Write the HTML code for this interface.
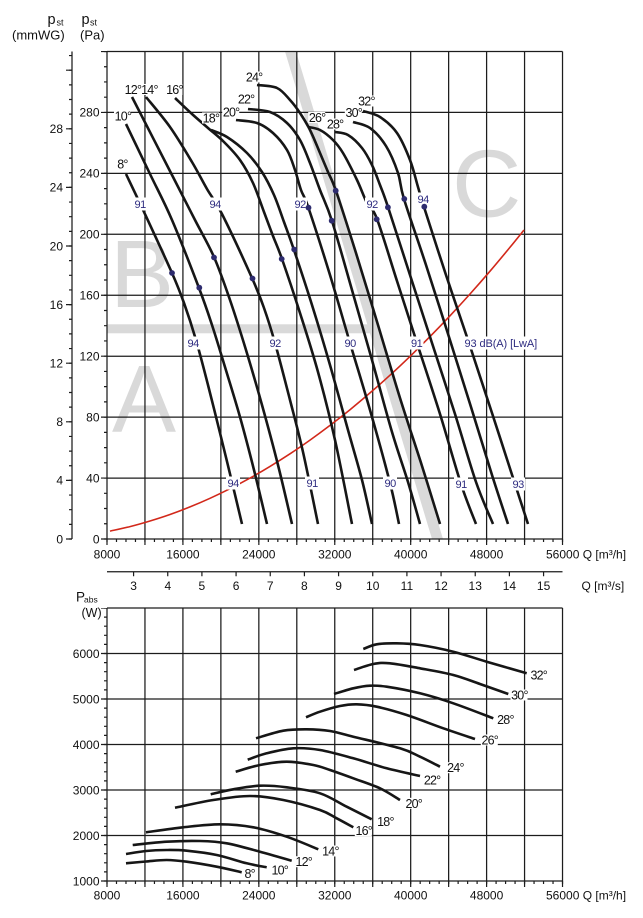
<!DOCTYPE html>
<html><head><meta charset="utf-8"><style>
html,body{margin:0;padding:0;background:#fff}
svg{display:block}
text{font-family:"Liberation Sans",Arial,sans-serif}
.t{font-size:12px;fill:#111}
.d{font-size:12.5px;fill:#111;letter-spacing:-0.8px}
.b{font-size:11px;fill:#2e2c80;letter-spacing:-0.4px}
</style></head><body>
<svg width="643" height="918" viewBox="0 0 643 918" xmlns="http://www.w3.org/2000/svg">
<rect width="643" height="918" fill="#fff"/>

<!-- grey zones -->
<g fill="#d9d9d9">
<text x="110" y="307" font-size="96" style="font-family:'Liberation Sans',sans-serif" fill="#d9d9d9">B</text>
<text x="112" y="432" font-size="96" style="font-family:'Liberation Sans',sans-serif" fill="#d9d9d9">A</text>
<text x="452" y="216.5" font-size="96" style="font-family:'Liberation Sans',sans-serif" fill="#d9d9d9">C</text>
<rect x="107" y="324.3" width="266" height="9"/>
<polygon points="285,51.5 296,51.5 443,539 432,539"/>
</g>

<!-- top grid -->
<g stroke="#1c1c1c" stroke-width="1.25" fill="none">
<path d="M107 51.5V539M144.96 51.5V539M182.92 51.5V539M220.88 51.5V539M258.84 51.5V539M296.8 51.5V539M334.76 51.5V539M372.72 51.5V539M410.68 51.5V539M448.64 51.5V539M486.6 51.5V539M524.56 51.5V539M562.52 51.5V539"/>
<path d="M107 51.5H562.52M107 112.4H562.52M107 173.4H562.52M107 234.3H562.52M107 295.2H562.52M107 356.2H562.52M107 417.1H562.52M107 478.1H562.52M107 539H562.52"/>
<path d="M72 51.5V539"/>
<path d="M107 571.7H562.52"/>
<path d="M107 608V881M144.96 608V881M182.92 608V881M220.88 608V881M258.84 608V881M296.8 608V881M334.76 608V881M372.72 608V881M410.68 608V881M448.64 608V881M486.6 608V881M524.56 608V881M562.52 608V881"/>
<path d="M107 608H562.52M107 653.5H562.52M107 699H562.52M107 744.5H562.52M107 790H562.52M107 835.5H562.52M107 881H562.52"/>
</g>

<!-- ticks -->
<g stroke="#1c1c1c" fill="none">
<line x1="106.4" y1="540.5" x2="563.2" y2="540.5" stroke-width="3" stroke-dasharray="1.2 8.29"/>
<line x1="106.4" y1="542" x2="563.2" y2="542" stroke-width="6" stroke-dasharray="1.2 36.76"/>
<line x1="106.4" y1="882.5" x2="563.2" y2="882.5" stroke-width="3" stroke-dasharray="1.2 8.29"/>
<line x1="106.4" y1="884" x2="563.2" y2="884" stroke-width="6" stroke-dasharray="1.2 36.76"/>
<line x1="132.98" y1="574" x2="545" y2="574" stroke-width="4.5" stroke-dasharray="1.2 32.966"/>
<line x1="105.5" y1="539.6" x2="105.5" y2="51" stroke-width="3" stroke-dasharray="1.2 14.035"/>
<line x1="104" y1="539.6" x2="104" y2="51" stroke-width="6" stroke-dasharray="1.2 59.74"/>
<line x1="70.5" y1="539.6" x2="70.5" y2="51" stroke-width="3" stroke-dasharray="1.2 13.45"/>
<line x1="69" y1="539.6" x2="69" y2="51" stroke-width="6" stroke-dasharray="1.2 57.4"/>
<line x1="105.5" y1="881.6" x2="105.5" y2="608" stroke-width="3" stroke-dasharray="1.2 7.9"/>
<line x1="104" y1="881.6" x2="104" y2="608" stroke-width="6" stroke-dasharray="1.2 44.3"/>
</g>

<!-- red system curve -->
<g fill="none" stroke="#d2281a" stroke-width="1.6">
<polyline class="s" points="110,531.1 130,526.6 150,521 170,514.5 190,506.9 210,498.3 230,488.7 250,478.1 270,466.4 290,453.8 310,440.1 330,425.4 350,409.7 370,392.9 390,375.2 410,356.4 430,336.6 450,315.8 470,294 490,271.2 510,247.3 524,230"/>
</g>

<!-- top fan curves -->
<g fill="none" stroke="#161616" stroke-width="2.6" stroke-linejoin="round">
<polyline class="s" points="126,174 144,212 172,273 184,303 196,340 208,385 220,433 231,478 242,524"/>
<polyline class="s" points="126,124 150,174 172,220 199,288 212,325 225,367 240,417 254,470 267,524"/>
<polyline class="s" points="132,97 172,175 195,220 214,257 230,300 246,350 262,405 278,465 292,524"/>
<polyline class="s" points="146,97 170,127 192,162 207,189 222,214 252,278 264,308 275,343 290,400 303,452 318,524"/>
<polyline class="s" points="175,98 192,114 208,128 224,142 240,160 253,183 264,212 273,236 282,259 300,313 318,372 335,440 352,524"/>
<polyline class="s" points="211,130 227,137 247,153 262,172 274,195 284,222 294,250 312,305 330,365 348,430 362,480 372,524"/>
<polyline class="s" points="236,120 257,123 273,133 287,150 295,170 301,190 308.5,208 330,275 350,343 370,410 390,483 399,524"/>
<polyline class="s" points="248,109 270,112 287,123 300,140 310,163 320,190 332,221 352,290 372,360 392,432 408,482 420,524"/>
<polyline class="s" points="257,85 277,88 290,100 300,113 310,130 320,153 328,172 336,191 356,253 378,325 400,398 422,466 440,524"/>
<polyline class="s" points="308,127 320,130 333,140 343,153 357,180 367,203 377,219 397,281 417,343 440,414 461,484 476,524"/>
<polyline class="s" points="335,132 348,135 362,148 372,165 380,185 388,207 410,275 432,343 455,414 476,482 493,524"/>
<polyline class="s" points="353,122 370,128 386,146 398,173 404,199 426,265 449,337 471,407 492,475 508,524"/>
<polyline class="s" points="363,111 380,117 397,133 410,160 418,187 424,207 446,275 469,343 492,413 515,484 528,524"/>
</g>

<!-- bottom power curves -->
<g fill="none" stroke="#161616" stroke-width="2.6" stroke-linejoin="round">
<polyline class="s" points="126,863.3 146,861.5 166.7,860 186.7,861.7 216.7,866.7 241.7,872.3"/>
<polyline class="s" points="126,854 146,851 166.7,850 186.7,850.7 216.7,855 246.7,863.3 266.7,867.3"/>
<polyline class="s" points="132.7,845 166.7,841.7 200,841 226.7,843.3 260,851.7 291.7,860.7"/>
<polyline class="s" points="146,832.3 183.3,827.3 220,824.3 253.3,827.3 286.7,836.7 318.3,849.3"/>
<polyline class="s" points="175,807.7 213.3,800 250,796 283.3,800 320,810 336.7,818.3 353.3,827.3"/>
<polyline class="s" points="210.7,794.3 233.3,789.3 260,785.7 286.7,787.3 320,793.3 346.7,806.7 371.7,819.3"/>
<polyline class="s" points="235.7,771.7 260,765 286.7,761.7 313.3,765 330,770 353.3,778.3 380,788.3 400,800"/>
<polyline class="s" points="247.7,759.7 266.7,753.3 293.3,748.3 320,750 353.3,758.3 386.7,768.3 420,776"/>
<polyline class="s" points="256,738.3 283.3,730.7 306.7,729.3 330,731 353.3,736.7 400,748.3 420,756.7 440,766.7"/>
<polyline class="s" points="306,717.3 320,711.7 340,706 356.7,704.3 376.7,706.7 406.7,715 443.3,728.3 475,739"/>
<polyline class="s" points="334,694 353.3,688.3 370,685.7 386.7,686.7 420,693.3 453.3,703.3 493.3,718.3"/>
<polyline class="s" points="354,670 373.3,664 390,663.3 420,668.3 453.3,675 480,684 508.3,694"/>
<polyline class="s" points="363.3,649 376.7,644.3 396.7,643.3 420,645 453.3,651.7 486.7,661.7 526.7,673.3"/>
</g>

<!-- label backgrounds -->
<g fill="#fff">
<rect x="116" y="158.5" width="12" height="11"/>
<rect x="114" y="110.5" width="17" height="11"/>
<rect x="124" y="84" width="17" height="11"/>
<rect x="140.5" y="84" width="17" height="11"/>
<rect x="165.5" y="84" width="17" height="11"/>
<rect x="202" y="112.5" width="17" height="11"/>
<rect x="222.2" y="106.5" width="17" height="11"/>
<rect x="237.2" y="93.5" width="17" height="11"/>
<rect x="245.2" y="71.5" width="17" height="11"/>
<rect x="308.2" y="112" width="17" height="11"/>
<rect x="326.2" y="118.5" width="17" height="11"/>
<rect x="344.8" y="107" width="17" height="11"/>
<rect x="357.5" y="95.5" width="17" height="11"/>
<rect x="133" y="197.5" width="14" height="13"/>
<rect x="208" y="197.5" width="14" height="13"/>
<rect x="293" y="197.5" width="14" height="13"/>
<rect x="365" y="197.5" width="14" height="13"/>
<rect x="416" y="192.5" width="14" height="13"/>
<rect x="186" y="336.5" width="14" height="13"/>
<rect x="268" y="336.5" width="14" height="13"/>
<rect x="343" y="336.5" width="14" height="13"/>
<rect x="409.5" y="336.5" width="14" height="13"/>
<rect x="463" y="336.5" width="78" height="13"/>
<rect x="226" y="476.5" width="14" height="13"/>
<rect x="305" y="476.5" width="14" height="13"/>
<rect x="383" y="476.5" width="14" height="13"/>
<rect x="454" y="477.5" width="14" height="13"/>
<rect x="511" y="477.5" width="14" height="13"/>
<rect x="243.3" y="867.8" width="12" height="11"/>
<rect x="270.8" y="864.5" width="17" height="11"/>
<rect x="294.8" y="856.2" width="17" height="11"/>
<rect x="321.5" y="845.5" width="17" height="11"/>
<rect x="354.8" y="825.2" width="17" height="11"/>
<rect x="376.5" y="816.2" width="17" height="11"/>
<rect x="404.8" y="797.8" width="17" height="11"/>
<rect x="423.2" y="774.5" width="17" height="11"/>
<rect x="446.5" y="762.2" width="17" height="11"/>
<rect x="480.8" y="734.5" width="17" height="11"/>
<rect x="496.5" y="713.8" width="17" height="11"/>
<rect x="510.5" y="689.5" width="17" height="11"/>
<rect x="529.8" y="669.5" width="17" height="11"/>
</g>

<!-- degree labels -->
<g class="d" text-anchor="middle">
<text x="122.4" y="168.5" class="d">8°</text>
<text x="122.9" y="120.5" class="d">10°</text>
<text x="132.9" y="94" class="d">12°</text>
<text x="149.4" y="94" class="d">14°</text>
<text x="174.4" y="94" class="d">16°</text>
<text x="210.9" y="122.5" class="d">18°</text>
<text x="231.1" y="116.5" class="d">20°</text>
<text x="246.1" y="103.5" class="d">22°</text>
<text x="254.1" y="81.5" class="d">24°</text>
<text x="317.1" y="122" class="d">26°</text>
<text x="335.1" y="128.5" class="d">28°</text>
<text x="353.7" y="117" class="d">30°</text>
<text x="366.4" y="105.5" class="d">32°</text>

<text x="249.7" y="877.8" class="d">8°</text>
<text x="279.7" y="874.5" class="d">10°</text>
<text x="303.7" y="866.2" class="d">12°</text>
<text x="330.4" y="855.5" class="d">14°</text>
<text x="363.7" y="835.2" class="d">16°</text>
<text x="385.4" y="826.2" class="d">18°</text>
<text x="413.7" y="807.8" class="d">20°</text>
<text x="432.1" y="784.5" class="d">22°</text>
<text x="455.4" y="772.2" class="d">24°</text>
<text x="489.7" y="744.5" class="d">26°</text>
<text x="505.4" y="723.8" class="d">28°</text>
<text x="519.4" y="699.5" class="d">30°</text>
<text x="538.7" y="679.5" class="d">32°</text>
</g>

<!-- dB labels -->
<g text-anchor="middle">
<text x="140.2" y="208" class="b">91</text>
<text x="215.2" y="208" class="b">94</text>
<text x="300.2" y="208" class="b">92</text>
<text x="372.2" y="208" class="b">92</text>
<text x="423.2" y="203" class="b">94</text>
<text x="193.2" y="347" class="b">94</text>
<text x="275.2" y="347" class="b">92</text>
<text x="350.2" y="347" class="b">90</text>
<text x="416.7" y="347" class="b">91</text>
<text x="233.2" y="487" class="b">94</text>
<text x="312.2" y="487" class="b">91</text>
<text x="390.2" y="487" class="b">90</text>
<text x="461.2" y="488" class="b">91</text>
<text x="518.2" y="488" class="b">93</text>
</g>
<text x="464.5" y="347" class="b" style="letter-spacing:-0.1px">93 dB(A) [LwA]</text>

<!-- dots -->
<g fill="#2d2b6e">
<circle cx="172" cy="273" r="2.9"/>
<circle cx="199.3" cy="287.7" r="2.9"/>
<circle cx="214" cy="257.5" r="2.9"/>
<circle cx="252.5" cy="278.5" r="2.9"/>
<circle cx="281.7" cy="259" r="2.9"/>
<circle cx="294.2" cy="249.5" r="2.9"/>
<circle cx="308.5" cy="207.7" r="2.9"/>
<circle cx="331.7" cy="220.7" r="2.9"/>
<circle cx="335.7" cy="190.7" r="2.9"/>
<circle cx="376.7" cy="219.3" r="2.9"/>
<circle cx="387.9" cy="207.3" r="2.9"/>
<circle cx="404.3" cy="198.9" r="2.9"/>
<circle cx="424.3" cy="206.7" r="2.9"/>
</g>

<!-- axis titles -->
<text x="47.5" y="24" font-size="14.5" fill="#111">p</text>
<text x="56.5" y="25.5" font-size="9" fill="#111">st</text>
<text x="12" y="39.5" font-size="13" fill="#111">(mmWG)</text>
<text x="81.5" y="24" font-size="14.5" fill="#111">p</text>
<text x="90" y="25.5" font-size="9" fill="#111">st</text>
<text x="80" y="39.5" font-size="13" fill="#111">(Pa)</text>

<text x="76" y="601.7" font-size="13.5" fill="#111">P</text>
<text x="84" y="602.5" font-size="8.5" fill="#111">abs</text>
<text x="81.5" y="617" font-size="12.5" fill="#111">(W)</text>

<g class="t" text-anchor="end">
<text x="99.5" y="116.7">280</text>
<text x="99.5" y="177.7">240</text>
<text x="99.5" y="238.6">200</text>
<text x="99.5" y="299.5">160</text>
<text x="99.5" y="360.5">120</text>
<text x="99.5" y="421.4">80</text>
<text x="99.5" y="482.4">40</text>
<text x="99.5" y="543.3">0</text>
<text x="63" y="133.1">28</text>
<text x="63" y="191.7">24</text>
<text x="63" y="250.3">20</text>
<text x="63" y="308.9">16</text>
<text x="63" y="367.5">12</text>
<text x="63" y="426.1">8</text>
<text x="63" y="484.7">4</text>
<text x="63" y="543.3">0</text>
<text x="99.5" y="657.8">6000</text>
<text x="99.5" y="703.3">5000</text>
<text x="99.5" y="748.8">4000</text>
<text x="99.5" y="794.3">3000</text>
<text x="99.5" y="839.8">2000</text>
<text x="99.5" y="885.3">1000</text>
</g>

<g class="t" text-anchor="middle">
<text x="107" y="558.3">8000</text>
<text x="182.9" y="558.3">16000</text>
<text x="258.8" y="558.3">24000</text>
<text x="334.8" y="558.3">32000</text>
<text x="410.7" y="558.3">40000</text>
<text x="486.6" y="558.3">48000</text>
<text x="133.6" y="590">3</text>
<text x="167.8" y="590">4</text>
<text x="201.9" y="590">5</text>
<text x="236.1" y="590">6</text>
<text x="270.2" y="590">7</text>
<text x="304.4" y="590">8</text>
<text x="338.6" y="590">9</text>
<text x="372.7" y="590">10</text>
<text x="406.9" y="590">11</text>
<text x="441.1" y="590">12</text>
<text x="475.2" y="590">13</text>
<text x="509.4" y="590">14</text>
<text x="543.6" y="590">15</text>
<text x="107" y="899.3">8000</text>
<text x="182.9" y="899.3">16000</text>
<text x="258.8" y="899.3">24000</text>
<text x="334.8" y="899.3">32000</text>
<text x="410.7" y="899.3">40000</text>
<text x="486.6" y="899.3">48000</text>
</g>
<text x="546" y="558.3" class="t">56000 Q [m³/h]</text>
<text x="581.5" y="590" class="t">Q [m³/s]</text>
<text x="546" y="899.3" class="t">56000 Q [m³/h]</text>
</svg>
<script>
(function(){
var list=document.querySelectorAll('polyline.s');
for(var k=0;k<list.length;k++){
var pl=list[k];
var pts=pl.getAttribute('points').trim().split(/\s+/).map(function(p){return p.split(',').map(Number);});
var d='M'+pts[0][0]+' '+pts[0][1];
for(var i=0;i<pts.length-1;i++){
var p0=pts[i-1]||pts[i],p1=pts[i],p2=pts[i+1],p3=pts[i+2]||p2;
var c1x=p1[0]+(p2[0]-p0[0])/6,c1y=p1[1]+(p2[1]-p0[1])/6,c2x=p2[0]-(p3[0]-p1[0])/6,c2y=p2[1]-(p3[1]-p1[1])/6;
d+='C'+c1x.toFixed(2)+' '+c1y.toFixed(2)+' '+c2x.toFixed(2)+' '+c2y.toFixed(2)+' '+p2[0]+' '+p2[1];
}
var path=document.createElementNS('http://www.w3.org/2000/svg','path');
path.setAttribute('d',d);
pl.parentNode.replaceChild(path,pl);
}
})();
</script>
</body></html>
